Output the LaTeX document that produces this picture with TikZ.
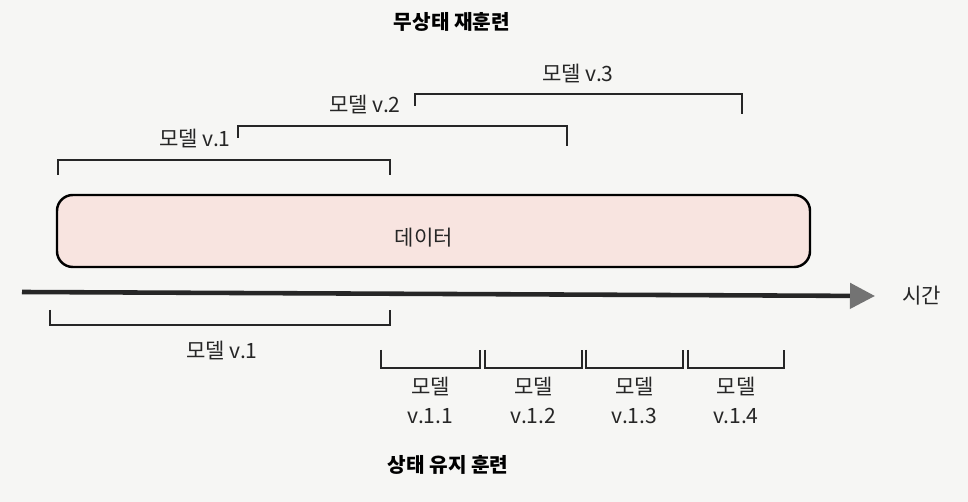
\documentclass[tikz,border=0pt]{standalone}
\usepackage{fontspec}
\newfontfamily\kr{Noto Sans CJK KR}
\usetikzlibrary{arrows.meta}
\definecolor{datafill}{RGB}{248,228,224}
\definecolor{pagebg}{RGB}{246,246,244}
\tikzset{
    lbl/.style={font=\kr\fontsize{12}{14}\selectfont, text=black!85},
    ttl/.style={font=\kr\bfseries\fontsize{11.5}{14}\selectfont},
    brk/.style={line width=1.1pt, black!85}
}
\begin{document}
\begin{tikzpicture}[x=0.02cm, y=-0.02cm]
            \fill[pagebg] (0, 0) rectangle (968, 502);
            \useasboundingbox (0, 0) rectangle (968, 502);

            \node[ttl] (stateless) at (452, 22) {무상태 재훈련};
            \node[ttl] (stateful) at (448, 465) {상태 유지 훈련};

            % stateless retraining
            \draw[brk] (58, 175) -- (58, 160) -- (390, 160) -- (390, 175);
            \draw[brk] (238, 138) -- (238, 126) -- (567, 126) -- (567, 146);
            \draw[brk] (415, 106) -- (415, 94) -- (742, 94) -- (742, 114);
            \node[lbl] (fullA) at (195, 138) {모델 v.1};
            \node[lbl] (fullB) at (365, 104) {모델 v.2};
            \node[lbl] (fullC) at (578, 73) {모델 v.3};

            \draw[line width=1.4pt, fill=datafill, rounded corners=9pt] (57, 195) rectangle (810, 267);
            \node[lbl] (data) at (424, 238) {데이터};

            \coordinate (t0) at (22, 292);
            \coordinate (t1) at (875, 296);
            \draw[line width=2.6pt, black!85, -{Triangle[length=0.5cm, width=0.5cm, fill=black!55, color=black!55]}] (t0) -- (t1);
            \node[lbl, anchor=west] (time) at (t1) [xshift=12pt] {시간};

            % stateful training
            \draw[brk] (50, 310) -- (50, 325) -- (390, 325) -- (390, 310);
            \node[lbl] (base) at (222, 350) {모델 v.1};

            \foreach \a/\b/\v in {381/480/1, 485/582/2, 586/683/3, 688/784/4} {
                \draw[brk] (\a, 350) -- (\a, 368) -- (\b, 368) -- (\b, 350);
                \node[lbl] (m\v) at ({(\a+\b)/2}, 386) {모델};
                \node[lbl] (v\v) at ({(\a+\b)/2}, 416) {v.1.\v};
            }
        \end{tikzpicture}
\end{document}
